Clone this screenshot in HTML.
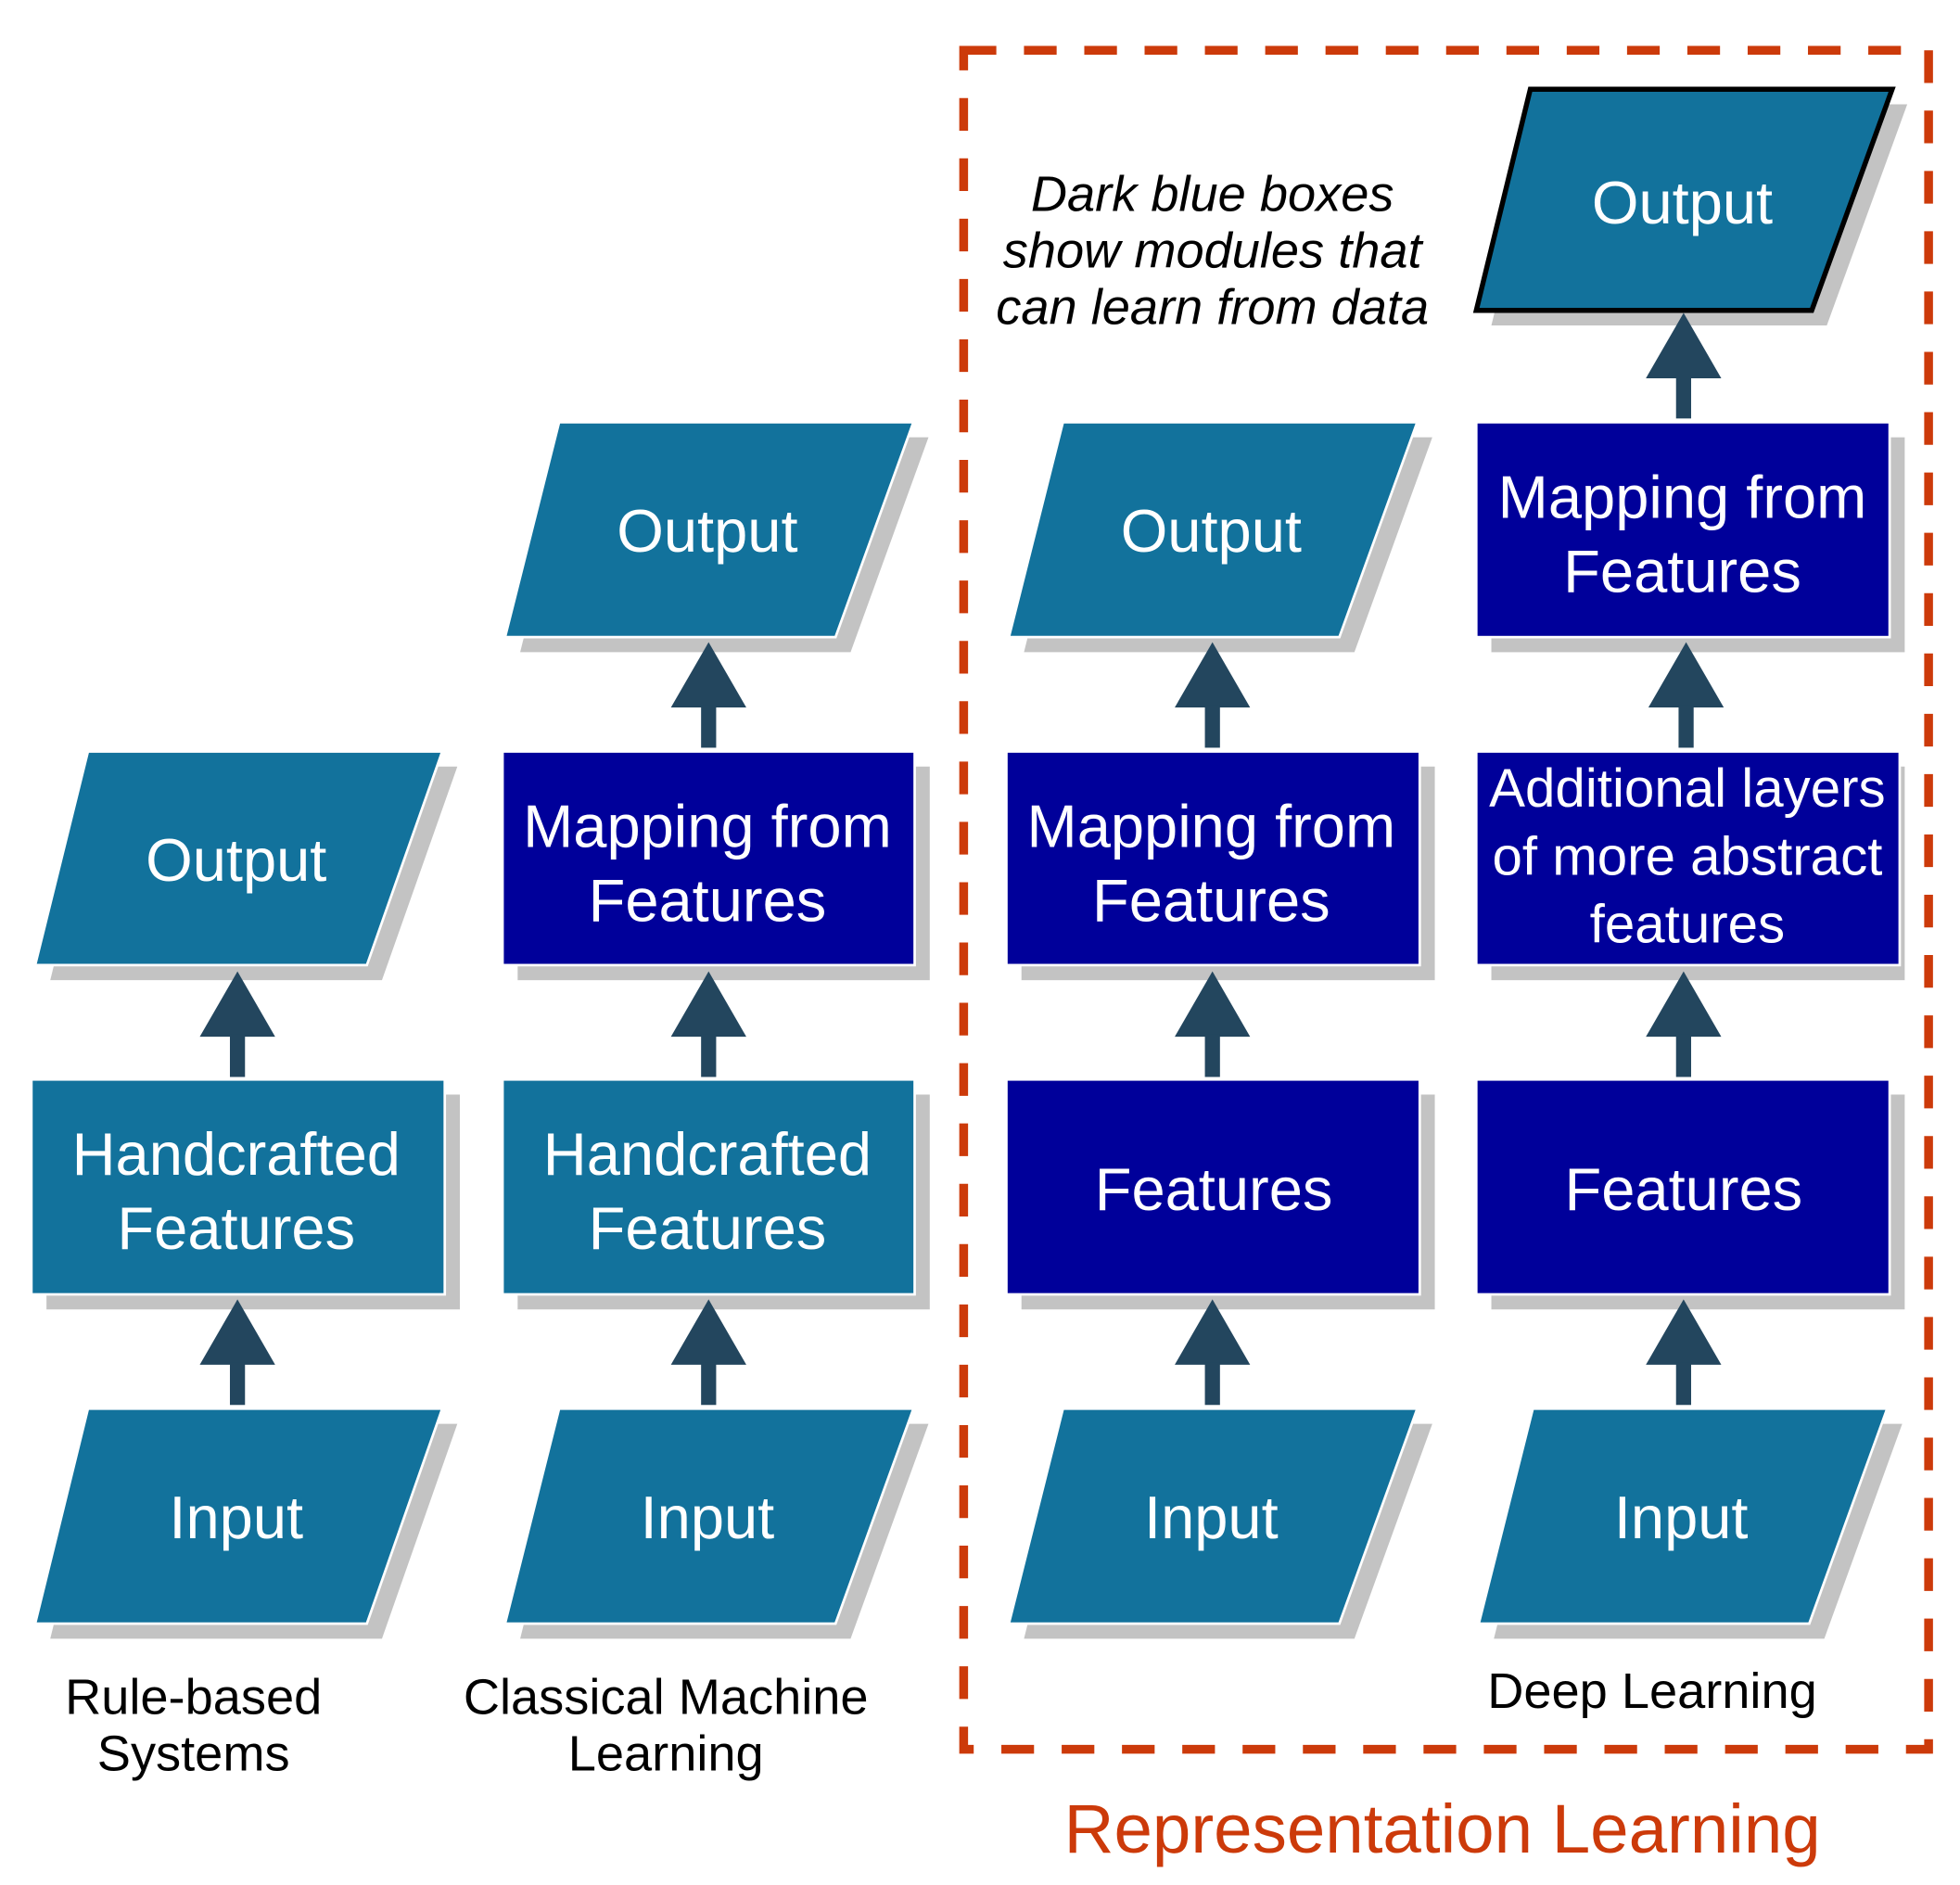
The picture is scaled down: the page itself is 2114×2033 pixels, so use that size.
<!DOCTYPE html>
<html><head><meta charset="utf-8"><style>html,body{margin:0;padding:0;background:#fff}svg{display:block}</style></head><body>
<svg width="2114" height="2033" viewBox="0 0 1560 1500" preserveAspectRatio="none" xmlns="http://www.w3.org/2000/svg" font-family="Liberation Sans, Arial, sans-serif">
<defs>
<g id="arr"><polygon points="0,0 -30,52 30,52" fill="#23465e"/><rect x="-6" y="50" width="12" height="34" fill="#23465e"/></g>
</defs>
<g fill="#c3c3c3">
<polygon points="82,610 364,610 304,780 40,780"/>
<rect x="37" y="871" width="329" height="171"/>
<polygon points="82,1133 364,1133 304,1304 40,1304"/>
<polygon points="457,348 739,348 677,519 414,519"/>
<rect x="412" y="610" width="328" height="170"/>
<rect x="412" y="871" width="328" height="171"/>
<polygon points="457,1133 739,1133 677,1304 414,1304"/>
<polygon points="858,348 1140,348 1078,519 815,519"/>
<rect x="813" y="610" width="329" height="170"/>
<rect x="813" y="871" width="329" height="171"/>
<polygon points="858,1133 1140,1133 1078,1304 815,1304"/>
<polygon points="1230,83 1518,83 1454,259 1187,259"/>
<rect x="1187" y="348" width="329" height="171"/>
<rect x="1187" y="610" width="329" height="170"/>
<rect x="1187" y="871" width="329" height="171"/>
<polygon points="1232,1133 1514,1133 1452,1304 1189,1304"/>
</g>
<g stroke="#fff" stroke-width="2">
<polygon points="70,598 352,598 292,768 28,768" fill="#12729c"/>
<rect x="25" y="859" width="329" height="171" fill="#12729c"/>
<polygon points="70,1121 352,1121 292,1292 28,1292" fill="#12729c"/>
<polygon points="445,336 727,336 665,507 402,507" fill="#12729c"/>
<rect x="400" y="598" width="328" height="170" fill="#00009a"/>
<rect x="400" y="859" width="328" height="171" fill="#12729c"/>
<polygon points="445,1121 727,1121 665,1292 402,1292" fill="#12729c"/>
<polygon points="846,336 1128,336 1066,507 803,507" fill="#12729c"/>
<rect x="801" y="598" width="329" height="170" fill="#00009a"/>
<rect x="801" y="859" width="329" height="171" fill="#00009a"/>
<polygon points="846,1121 1128,1121 1066,1292 803,1292" fill="#12729c"/>
<rect x="1175" y="336" width="329" height="171" fill="#00009a"/>
<rect x="1175" y="598" width="337" height="170" fill="#00009a"/>
<rect x="1175" y="859" width="329" height="171" fill="#00009a"/>
<polygon points="1220,1121 1502,1121 1440,1292 1177,1292" fill="#12729c"/>
</g>
<polygon points="1218,71 1506,71 1442,247 1175,247" fill="#12729c" stroke="#000" stroke-width="4"/>
<use href="#arr" x="189" y="773"/>
<use href="#arr" x="189" y="1034"/>
<use href="#arr" x="564" y="511"/>
<use href="#arr" x="564" y="773"/>
<use href="#arr" x="564" y="1034"/>
<use href="#arr" x="965" y="511"/>
<use href="#arr" x="965" y="773"/>
<use href="#arr" x="965" y="1034"/>
<use href="#arr" x="1340" y="249"/>
<use href="#arr" x="1342" y="511"/>
<use href="#arr" x="1340" y="773"/>
<use href="#arr" x="1340" y="1034"/>
<rect x="767" y="40" width="768" height="1352" fill="none" stroke="#cc3a0a" stroke-width="7" stroke-dasharray="26,22"/>
<g fill="#fff" text-anchor="middle" font-size="48">
<text x="188" y="701">Output</text>
<text x="188" y="935">Handcrafted</text>
<text x="188" y="994">Features</text>
<text x="188" y="1224">Input</text>
<text x="563" y="439">Output</text>
<text x="563" y="674">Mapping from</text>
<text x="563" y="733">Features</text>
<text x="563" y="935">Handcrafted</text>
<text x="563" y="994">Features</text>
<text x="563" y="1224">Input</text>
<text x="964" y="439">Output</text>
<text x="964" y="674">Mapping from</text>
<text x="964" y="733">Features</text>
<text x="966" y="963">Features</text>
<text x="964" y="1224">Input</text>
<text x="1339" y="178">Output</text>
<text x="1339" y="412">Mapping from</text>
<text x="1339" y="471">Features</text>
<text x="1340" y="963">Features</text>
<text x="1338" y="1224">Input</text>
<g font-size="43"><text x="1343" y="642">Additional layers</text><text x="1343" y="696">of more abstract</text><text x="1343" y="750">features</text></g>
</g>
<g fill="#000" text-anchor="middle" font-size="40">
<text x="154" y="1364">Rule-based</text><text x="154" y="1409">Systems</text>
<text x="530" y="1364">Classical Machine</text><text x="530" y="1409">Learning</text>
<text x="1315" y="1359">Deep Learning</text>
<g font-style="italic"><text x="965" y="168">Dark blue boxes</text><text x="965" y="213">show modules that</text><text x="965" y="258">can learn from data</text></g>
</g>
<text x="1148" y="1474" text-anchor="middle" font-size="55" fill="#cc3a0a">Representation Learning</text>
</svg>
</body></html>
